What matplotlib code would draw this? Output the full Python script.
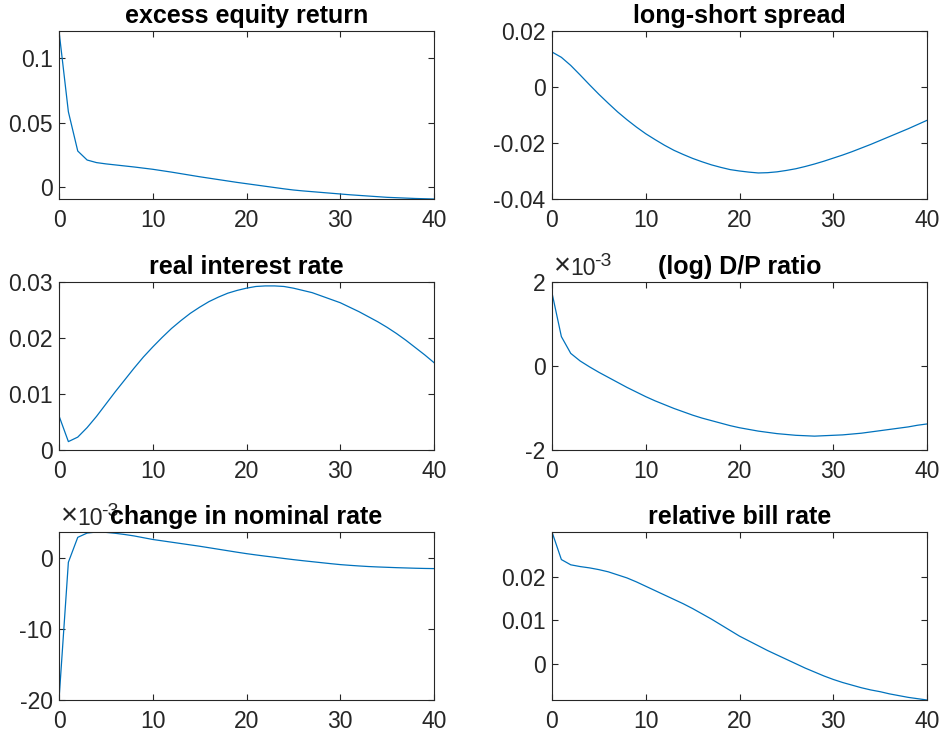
import matplotlib
matplotlib.use("Agg")
import matplotlib.pyplot as plt
from matplotlib.ticker import FuncFormatter
from matplotlib.transforms import ScaledTranslation

plt.rcParams['font.family'] = ['Liberation Sans', 'DejaVu Sans']

t = list(range(41))

excess_equity = [0.1213, 0.0585, 0.0280, 0.0210, 0.0190, 0.0180, 0.0172, 0.0164, 0.0156, 0.0147,
                 0.0138, 0.0127, 0.0116, 0.0104, 0.0092, 0.0080, 0.0069, 0.0058, 0.0047, 0.0036,
                 0.0026, 0.0016, 0.0006, -0.0004, -0.0014, -0.0023, -0.0030, -0.0036, -0.0042, -0.0048,
                 -0.0054, -0.0060, -0.0065, -0.0070, -0.0075, -0.0080, -0.0083, -0.0086, -0.0089, -0.0091,
                 -0.0093]

long_short = [0.0125, 0.0106, 0.0077, 0.0043, 0.0008, -0.0026, -0.0058, -0.0089, -0.0117, -0.0143,
              -0.0167, -0.0188, -0.0208, -0.0226, -0.0241, -0.0255, -0.0267, -0.0278, -0.0287, -0.0295,
              -0.0300, -0.0304, -0.0307, -0.0306, -0.0303, -0.0298, -0.0292, -0.0284, -0.0275, -0.0265,
              -0.0254, -0.0243, -0.0231, -0.0218, -0.0205, -0.0191, -0.0177, -0.0163, -0.0149, -0.0134,
              -0.0119]

real_rate = [0.0061, 0.0015, 0.0023, 0.0040, 0.0060, 0.0082, 0.0104, 0.0125, 0.0146, 0.0166,
             0.0184, 0.0201, 0.0217, 0.0231, 0.0244, 0.0255, 0.0265, 0.0273, 0.0280, 0.0285,
             0.0289, 0.0292, 0.0293, 0.0293, 0.0292, 0.0289, 0.0285, 0.0281, 0.0275, 0.0269,
             0.0263, 0.0255, 0.0247, 0.0238, 0.0229, 0.0219, 0.0208, 0.0196, 0.0183, 0.0170,
             0.0156]

# read in units of 1e-3
dp_ratio = [1.74, 0.70, 0.30, 0.12, -0.02, -0.15, -0.27, -0.39, -0.51, -0.62,
            -0.73, -0.83, -0.92, -1.01, -1.09, -1.17, -1.24, -1.30, -1.36, -1.42,
            -1.47, -1.51, -1.55, -1.58, -1.61, -1.63, -1.65, -1.66, -1.67, -1.66,
            -1.65, -1.64, -1.62, -1.60, -1.57, -1.54, -1.51, -1.48, -1.45, -1.41,
            -1.38]

# read in units of 1e-3
nominal_change = [-20.0, -0.65, 2.85, 3.45, 3.60, 3.55, 3.42, 3.25, 3.05, 2.80,
                  2.55, 2.36, 2.17, 1.98, 1.79, 1.60, 1.39, 1.18, 0.97, 0.76,
                  0.56, 0.38, 0.21, 0.05, -0.12, -0.28, -0.43, -0.57, -0.71, -0.85,
                  -0.98, -1.08, -1.17, -1.25, -1.31, -1.36, -1.41, -1.45, -1.49, -1.52,
                  -1.54]

bill_rate = [0.0302, 0.0239, 0.0227, 0.0223, 0.0220, 0.0216, 0.0211, 0.0204, 0.0197, 0.0188,
             0.0178, 0.0168, 0.0158, 0.0148, 0.0138, 0.0127, 0.0115, 0.0103, 0.0090, 0.0077,
             0.0064, 0.0053, 0.0042, 0.0031, 0.0021, 0.0011, 0.0001, -0.0009, -0.0018, -0.0027,
             -0.0035, -0.0042, -0.0048, -0.0054, -0.0059, -0.0063, -0.0068, -0.0072, -0.0076, -0.0079,
             -0.0082]

dp_ratio = [v * 1e-3 for v in dp_ratio]
nominal_change = [v * 1e-3 for v in nominal_change]

titles = ["excess equity return", "long-short spread", "real interest rate",
          "(log) D/P ratio", "change in nominal rate", "relative bill rate"]
series = [excess_equity, long_short, real_rate, dp_ratio, nominal_change, bill_rate]
yticks = [[0, 0.05, 0.1], [-0.04, -0.02, 0, 0.02], [0, 0.01, 0.02, 0.03],
          [-2e-3, 0, 2e-3], [-20e-3, -10e-3, 0], [0, 0.01, 0.02]]
scales = [1, 1, 1, 1e3, 1e3, 1]
ylims = [None, (-0.04, 0.02), (0, 0.03), (-2e-3, 2e-3), None, None]

W, H = 944, 740
lefts = [59, 552]
tops = [31, 282, 532]
aw, ah = 375, 168
edge = '#262626'

fig = plt.figure(figsize=(W / 100, H / 100), dpi=100)


def px_offset(ax, dx, dy):
    # shift from the axes' top-left corner, in pixels
    return ax.transAxes + ScaledTranslation(dx / 100, dy / 100, fig.dpi_scale_trans)


for i in range(6):
    r, c = divmod(i, 2)
    ys = series[i]
    ax = fig.add_axes([lefts[c] / W, 1 - (tops[r] + ah) / H, aw / W, ah / H])
    ax.plot(t, ys, color='#0072BD', linewidth=0.9)
    ax.set_xlim(0, 40)
    if ylims[i] is None:
        ax.set_ylim(min(ys), max(ys))
    else:
        ax.set_ylim(*ylims[i])
    ax.set_xticks([0, 10, 20, 30, 40])
    ax.set_yticks(yticks[i])
    ax.yaxis.set_major_formatter(FuncFormatter(lambda v, p, s=scales[i]: '%g' % round(v * s, 6)))
    ax.tick_params(direction='in', length=4, width=0.8, colors=edge, labelsize=16.5,
                   top=True, right=True)
    ax.tick_params(axis='y', pad=4.6)
    ax.tick_params(axis='x', pad=7.5)
    for sp in ax.spines.values():
        sp.set_color(edge)
        sp.set_linewidth(0.8)
    ax.set_title(titles[i], fontsize=18, fontweight='bold', pad=6)
    if scales[i] != 1:
        # MATLAB-style exponent label above the top-left corner
        ax.text(0, 1, '\u00d7', transform=px_offset(ax, 2, 8), fontsize=21,
                color=edge, ha='left', va='baseline')
        ax.text(0, 1, '10', transform=px_offset(ax, 18, 7), fontsize=16.5,
                color=edge, ha='left', va='baseline')
        ax.text(0, 1, '-3', transform=px_offset(ax, 42, 16), fontsize=14,
                color=edge, ha='left', va='baseline')

fig.savefig('out.png', dpi=100)
